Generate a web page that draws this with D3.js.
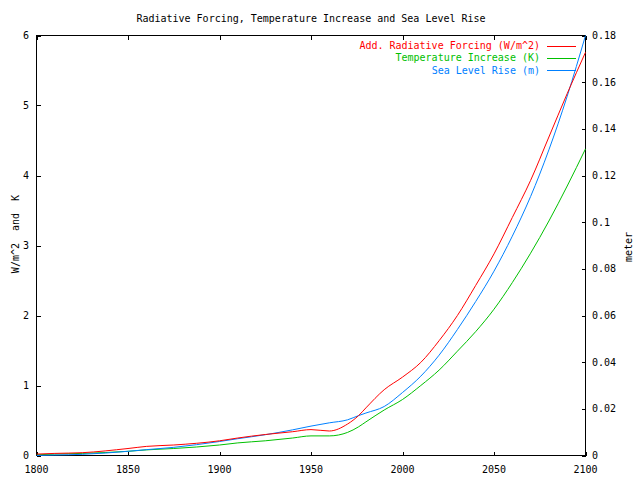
<!DOCTYPE html>
<html><head><meta charset="utf-8">
<script src="https://cdn.jsdelivr.net/npm/d3@7"></script>
<style>
body{margin:0;background:#fff;}
text{font-family:"DejaVu Sans Mono",monospace;font-size:10px;fill:#000;}
</style></head>
<body><svg id="c" width="640" height="480"></svg>
<script>
const years = [1800,1810,1825,1850,1860,1875,1900,1910,1925,1940,1950,1960,1970,1976,1980,1990,2000,2010,2020,2030,2040,2050,2060,2070,2080,2090,2100];
const forcing = [0.02,0.03,0.04,0.10,0.13,0.15,0.21,0.25,0.30,0.34,0.37,0.35,0.45,0.57,0.68,0.94,1.12,1.33,1.64,2.00,2.43,2.88,3.40,3.93,4.55,5.17,5.76];
const temperature = [0.01,0.02,0.03,0.06,0.08,0.10,0.15,0.18,0.21,0.25,0.28,0.28,0.33,0.41,0.48,0.65,0.80,1.00,1.22,1.49,1.77,2.09,2.47,2.89,3.35,3.85,4.38];
const sealevel = [0.0,0.0002,0.0005,0.0018,0.0025,0.0035,0.006,0.0072,0.0089,0.011,0.0126,0.014,0.0153,0.0171,0.0182,0.021,0.027,0.034,0.043,0.054,0.066,0.079,0.094,0.111,0.131,0.154,0.18];
const xTicks = [1800,1850,1900,1950,2000,2050,2100];
const yTicks = [0,1,2,3,4,5,6];
const y2Ticks = [0,0.02,0.04,0.06,0.08,0.1,0.12,0.14,0.16,0.18];
const title = "Radiative Forcing, Temperature Increase and Sea Level Rise";
const seriesNames = ["Add. Radiative Forcing (W/m^2)","Temperature Increase (K)","Sea Level Rise (m)"];
const colors = ["#ff0000","#00c000","#0080ff"];

const svg = d3.select("#c");
const L=36.5, R=585.5, T=35.5, B=455.5;
const x = d3.scaleLinear().domain([1800,2100]).range([L,R]);
const y = d3.scaleLinear().domain([0,6]).range([B,T]);
const y2 = d3.scaleLinear().domain([0,0.18]).range([B,T]);

svg.append("text").attr("x",(L+R)/2).attr("y",18).attr("text-anchor","middle").attr("dominant-baseline","central").text(title);

svg.append("rect").attr("x",L).attr("y",T).attr("width",R-L).attr("height",B-T)
  .attr("fill","none").attr("stroke","#000").attr("stroke-width",1).attr("shape-rendering","crispEdges");

const tk = 4;
const g = svg.append("g").attr("stroke","#000").attr("stroke-width",1).attr("shape-rendering","crispEdges");
xTicks.forEach(v=>{
  const px = Math.round(x(v))+0.5;
  g.append("line").attr("x1",px).attr("x2",px).attr("y1",B).attr("y2",B-tk);
  g.append("line").attr("x1",px).attr("x2",px).attr("y1",T).attr("y2",T+tk);
  svg.append("text").attr("x",x(v)).attr("y",469).attr("text-anchor","middle").attr("dominant-baseline","central").text(v);
});
yTicks.forEach(v=>{
  const py = Math.round(y(v))+0.5;
  g.append("line").attr("x1",L).attr("x2",L+tk).attr("y1",py).attr("y2",py);
  svg.append("text").attr("x",29).attr("y",y(v)).attr("text-anchor","end").attr("dominant-baseline","central").text(v);
});
y2Ticks.forEach(v=>{
  const py = Math.round(y2(v))+0.5;
  g.append("line").attr("x1",R).attr("x2",R-tk).attr("y1",py).attr("y2",py);
  svg.append("text").attr("x",592).attr("y",y2(v)).attr("text-anchor","start").attr("dominant-baseline","central").text(String(+v.toFixed(2)));
});

svg.append("text").attr("transform","translate(15,234) rotate(-90)").attr("text-anchor","middle").attr("dominant-baseline","central").style("white-space","pre").text("W/m^2  and  K");
svg.append("text").attr("transform","translate(628,247) rotate(-90)").attr("text-anchor","middle").attr("dominant-baseline","central").text("meter");

const lineL = d3.line().curve(d3.curveMonotoneX).x((d,i)=>x(years[i])).y(d=>y(d));
const lineR = d3.line().curve(d3.curveMonotoneX).x((d,i)=>x(years[i])).y(d=>y2(d));
svg.append("clipPath").attr("id","pc").append("rect").attr("x",L).attr("y",T-1).attr("width",R-L+1).attr("height",B-T+2);
const pg = svg.append("g").attr("clip-path","url(#pc)");
pg.append("path").attr("d",lineL(temperature)).attr("fill","none").attr("stroke",colors[1]).attr("stroke-width",1);
pg.append("path").attr("d",lineR(sealevel)).attr("fill","none").attr("stroke",colors[2]).attr("stroke-width",1);
pg.append("path").attr("d",lineL(forcing)).attr("fill","none").attr("stroke",colors[0]).attr("stroke-width",1);

seriesNames.forEach((n,i)=>{
  const ly = 45.5 + i*12.3;
  svg.append("text").attr("x",540).attr("y",ly).attr("text-anchor","end").attr("dominant-baseline","central").style("fill",colors[i]).text(n);
  svg.append("line").attr("x1",547).attr("x2",576).attr("y1",Math.round(ly)+0.5).attr("y2",Math.round(ly)+0.5).attr("stroke",colors[i]).attr("stroke-width",1).attr("shape-rendering","crispEdges");
});
</script></body></html>
